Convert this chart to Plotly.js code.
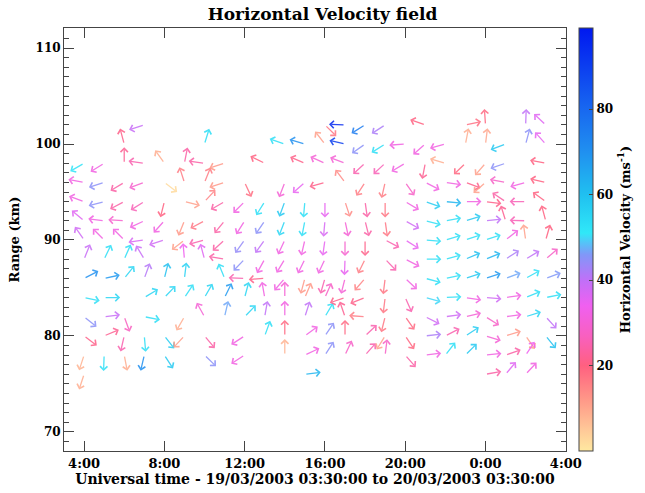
<!DOCTYPE html>
<html>
<head>
<meta charset="utf-8">
<script src="https://cdn.plot.ly/plotly-3.0.1.min.js"></script>
<style>html,body{margin:0;padding:0;background:#fff;}#chart{width:645px;height:493px;}</style>
</head>
<body>
<div id="chart"></div>
<script>
// Grid position of each arrow tail: universal time (hours from 19/03 00:00) and range gate (km)
const hours = [
  4,4,4,4,4,4,4,4,4,4,4,4,
  5,5,5,5,5,5,5,5,5,5,5,
  6,6,6,6,6,6,6,6,6,6,6,
  7,7,7,7,7,7,7,7,7,7,7,7,
  8,8,8,8,8,8,8,8,8,
  9,9,9,9,9,9,9,9,9,9,
  10,10,10,10,10,10,10,10,10,10,10,
  11,11,11,11,11,11,11,11,11,
  12,12,12,12,12,12,12,12,12,12,
  13,13,13,13,13,13,13,13,13,
  14,14,14,14,14,14,14,14,14,14,14,
  15,15,15,15,15,15,15,15,15,15,15,15,15,
  16,16,16,16,16,16,16,16,16,16,16,16,16,
  17,17,17,17,17,17,17,17,17,17,17,17,17,
  18,18,18,18,18,18,18,18,18,18,18,18,18,
  19,19,19,19,19,19,19,19,19,19,19,19,19,
  20,20,20,20,20,20,20,20,20,20,20,20,
  21,21,21,21,21,21,21,21,21,21,21,21,21,
  22,22,22,22,22,22,22,22,22,22,22,22,
  23,23,23,23,23,23,23,23,23,23,23,23,23,
  24,24,24,24,24,24,24,24,24,24,24,24,24,24,
  25,25,25,25,25,25,25,25,25,25,25,25,25,
  26,26,26,26,26,26,26,26,26,26,26,26,26,
  27,27,27,27,27,27,27,27,27,27,27,27
];
const rangeKm = [
  98,96,94,92,90,88,86,84,82,80,78,76,
  98,96,94,92,90,88,86,84,82,80,78,
  100,98,96,94,92,90,88,86,82,80,78,
  102,98,96,94,92,90,88,86,84,82,80,78,
  98,96,94,92,90,86,84,80,78,
  98,96,94,92,90,88,86,84,82,80,
  100,98,96,94,92,90,88,84,82,80,78,
  98,96,94,92,90,88,86,84,82,
  96,94,92,90,88,86,84,82,80,78,
  98,94,92,90,88,86,84,82,80,
  100,96,94,92,90,88,86,84,82,80,78,
  100,98,96,94,92,90,88,86,84,82,80,78,76,
  102,100,98,96,94,92,90,88,86,84,82,80,78,
  102,100,98,96,94,92,90,88,86,84,82,80,78,
  102,100,98,96,94,92,90,88,86,84,82,80,78,
  102,100,98,96,94,92,90,88,86,84,82,80,78,
  100,98,96,94,92,90,88,86,84,82,80,78,
  102,100,98,96,94,92,90,88,86,84,82,80,78,
  100,98,96,94,92,90,88,86,84,82,80,78,
  102,100,98,96,94,92,90,88,86,84,82,80,78,
  102,100,98,96,94,92,90,88,86,84,82,80,78,76,
  100,98,96,94,92,90,88,86,84,82,80,78,76,
  102,100,96,94,92,90,88,86,84,82,80,78,76,
  102,100,98,96,94,92,90,88,86,84,82,80
];
// Direction the wind blows toward (degrees clockwise from north)
const directionDeg = [
  240,281,290,310,325,22,63,102,129,127,198,198,
  238,252,255,277,315,26,78,90,83,67,182,
  345,0,239,242,274,315,24,39,160,193,169,
  252,278,250,238,245,262,329,20,59,101,175,193,
  325,127,194,222,252,14,44,142,147,
  11,342,104,202,232,355,7,34,210,223,
  17,278,22,43,242,255,345,30,331,140,134,
  252,252,240,219,228,280,338,26,13,
  155,225,212,216,224,272,15,44,237,237,
  296,212,214,216,209,266,350,10,20,
  289,201,200,201,205,211,221,0,0,0,0,
  287,293,229,185,191,193,206,195,23,18,54,65,83,
  135,322,294,254,180,185,188,205,196,24,31,34,33,
  272,283,291,323,162,168,180,182,194,251,341,0,25,
  238,235,228,213,172,166,180,206,221,248,274,47,42,
  237,238,227,193,180,172,118,136,187,187,194,212,7,
  266,239,145,121,119,122,117,133,156,145,146,139,
  289,229,191,117,109,104,95,90,105,105,117,84,83,
  255,286,98,95,80,74,75,79,87,82,63,38,
  78,11,226,110,90,73,71,67,72,99,77,57,45,
  356,7,221,229,97,84,72,68,72,95,122,107,84,80,
  249,251,281,304,343,52,57,70,82,82,73,71,40,
  2,15,254,270,272,352,59,61,68,73,145,34,43,
  313,318,281,283,306,345,16,49,70,79,138,141
];
// Horizontal speed (m/s)
const speedMs = [
  52,32,32,36,38,39,70,53,45,21,8,9,
  32,45,45,32,32,53,68,55,39,22,53,
  21,22,24,24,29,32,53,55,27,25,9,
  39,25,29,26,32,37,39,41,55,53,53,70,
  9,2,20,32,38,60,55,57,58,
  24,16,11,12,11,34,56,53,9,11,
  53,24,16,15,17,25,36,55,30,24,45,
  12,12,24,24,24,24,53,68,47,
  18,32,32,44,45,25,55,55,32,32,
  20,53,45,40,32,21,32,40,53,
  53,30,58,55,32,32,32,30,32,19,8,
  70,21,35,53,53,32,32,12,12,40,32,32,62,
  17,11,30,21,35,37,35,32,25,28,53,45,45,
  95,90,30,14,14,30,29,35,30,21,22,19,28,
  75,45,25,16,24,24,21,16,15,21,16,25,25,
  42,53,26,16,17,17,25,25,17,17,17,11,28,
  32,32,28,32,38,35,32,32,25,19,19,24,
  20,32,22,32,57,53,53,53,53,50,38,42,32,
  32,9,32,62,53,53,53,53,53,38,25,53,
  18,9,19,21,32,58,53,60,58,32,30,57,58,
  19,10,11,11,21,40,53,62,68,38,28,30,32,24,
  58,45,28,24,22,32,42,47,32,32,12,24,36,
  40,45,32,26,26,11,40,53,53,55,11,34,32,
  36,35,20,20,20,20,20,28,46,53,40,60
];
const xTickVals = [4, 8, 12, 16, 20, 24, 28];
const xTickText = ['4:00', '8:00', '12:00', '16:00', '20:00', '0:00', '4:00'];
const yTickVals = [70, 80, 90, 100, 110];
const cbTickVals = [20, 40, 60, 80];

// Colour table (speed value -> colour)
const cMin = 0, cMax = 99;
const scaleStops = [
  [0, '#FFE8A0'], [5, '#FFC898'], [12, '#FF9888'], [20, '#FF6080'],
  [27, '#F860C0'], [34, '#F060F0'], [40, '#C070F8'], [46, '#8098F8'],
  [51, '#30E8F8'], [60, '#20C0F0'], [70, '#2090F0'], [80, '#1868F0'], [99, '#0018F0']
];
const colorscale = scaleStops.map(s => [(s[0] - cMin) / (cMax - cMin), s[1]]);

function hexToRgb(h) { return [parseInt(h.substr(1,2),16), parseInt(h.substr(3,2),16), parseInt(h.substr(5,2),16)]; }
function colorFor(v) {
  const f = Math.max(0, Math.min(1, (v - cMin) / (cMax - cMin)));
  for (let i = 1; i < colorscale.length; i++) {
    if (f <= colorscale[i][0]) {
      const a = colorscale[i-1], b = colorscale[i];
      const t = (f - a[0]) / (b[0] - a[0] || 1);
      const ca = hexToRgb(a[1]), cb = hexToRgb(b[1]);
      const c = ca.map((x, k) => Math.round(x + (cb[k] - x) * t));
      return 'rgb(' + c.join(',') + ')';
    }
  }
  return colorscale[colorscale.length-1][1];
}

if (hours.length !== rangeKm.length || hours.length !== directionDeg.length || hours.length !== speedMs.length) {
  console.error('length mismatch', hours.length, rangeKm.length, directionDeg.length, speedMs.length);
}

const arrowPx = 16;
const annotations = hours.map((h, i) => {
  const a = directionDeg[i] * Math.PI / 180;
  const dx = arrowPx * Math.sin(a), dy = arrowPx * Math.cos(a);
  return {
    x: h, y: rangeKm[i], xref: 'x', yref: 'y', text: '',
    showarrow: true, axref: 'pixel', ayref: 'pixel',
    ax: -dx, ay: dy, xshift: dx, yshift: dy,
    arrowhead: 4, arrowsize: 1.1, arrowwidth: 1.3, standoff: 0, startstandoff: 0,
    arrowcolor: colorFor(speedMs[i]), opacity: 0.85
  };
});

const serif = 'DejaVu Serif, Liberation Serif, serif';
const trace = {
  type: 'scatter', mode: 'markers', x: hours, y: rangeKm, hoverinfo: 'skip',
  marker: {
    size: 2, opacity: 0, color: speedMs, cmin: cMin, cmax: cMax, colorscale: colorscale,
    showscale: true,
    colorbar: {
      x: 1.025, xanchor: 'left', xpad: 0, y: 0.5, yanchor: 'middle', ypad: 0,
      len: 1, lenmode: 'fraction', thickness: 14,
      outlinewidth: 1, outlinecolor: '#444',
      tickvals: cbTickVals, ticks: 'inside', ticklen: 4, tickcolor: '#444',
      tickfont: {family: serif, size: 12, color: '#000', weight: 'bold'},
      title: {text: 'Horizontal Velocity (ms<sup>-1</sup>)', side: 'right',
              font: {family: serif, size: 13, color: '#000', weight: 'bold'}}
    }
  }
};

const layout = {
  width: 645, height: 493,
  margin: {l: 64, r: 64, t: 28, b: 42},
  paper_bgcolor: '#fff', plot_bgcolor: '#fff',
  showlegend: false,
  title: {text: 'Horizontal Velocity field', x: 0.5, xanchor: 'center', y: 0.972, yanchor: 'middle',
          font: {family: serif, size: 17, color: '#000', weight: 'bold'}},
  xaxis: {
    range: [3, 28.01], tickvals: xTickVals, ticktext: xTickText,
    ticks: 'inside', ticklen: 10, tickcolor: '#444', tickwidth: 1,
    showline: true, linecolor: '#444', linewidth: 1, mirror: 'allticks',
    showgrid: false, zeroline: false,
    tickfont: {family: serif, size: 13, color: '#000', weight: 'bold'},
    title: {text: 'Universal time - 19/03/2003 03:30:00 to 20/03/2003 03:30:00', standoff: 2,
            font: {family: serif, size: 14, color: '#000', weight: 'bold'}}
  },
  yaxis: {
    range: [68, 112.1], tickvals: yTickVals,
    ticks: 'inside', ticklen: 10, tickcolor: '#444', tickwidth: 1,
    minor: {dtick: 1, ticks: 'inside', ticklen: 5, tickcolor: '#444', showgrid: false},
    showline: true, linecolor: '#444', linewidth: 1, mirror: 'allticks',
    showgrid: false, zeroline: false,
    tickfont: {family: serif, size: 12, color: '#000', weight: 'bold'},
    title: {text: 'Range (km)', standoff: 12, font: {family: serif, size: 13, color: '#000', weight: 'bold'}}
  },
  annotations: annotations
};

Plotly.newPlot('chart', [trace], layout, {displayModeBar: false, staticPlot: true});
</script>
</body>
</html>
